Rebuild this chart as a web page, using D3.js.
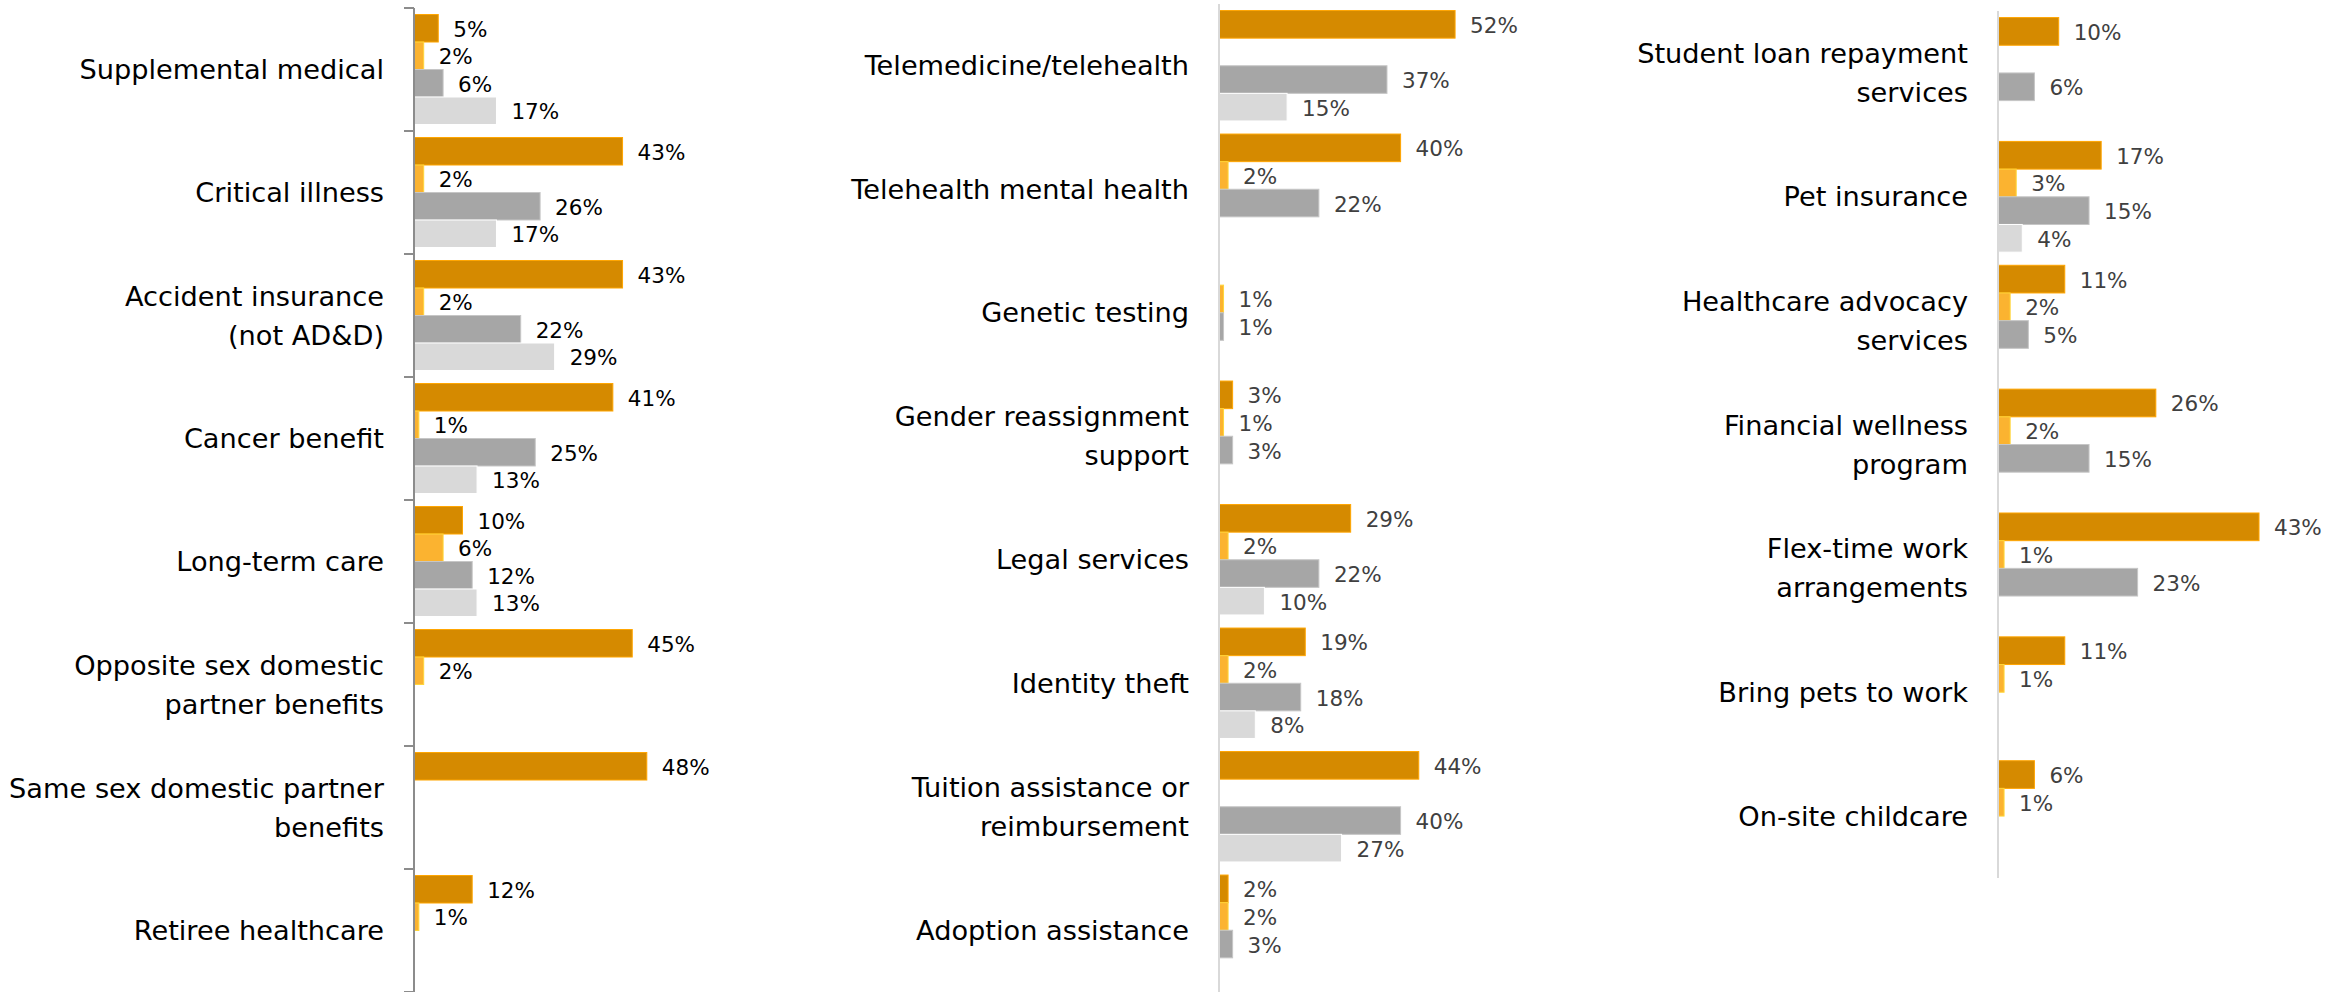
<!DOCTYPE html>
<html><head><meta charset="utf-8">
<script src="https://cdn.jsdelivr.net/npm/d3@7"></script>
<style>html,body{margin:0;padding:0;background:#fff;}</style>
</head><body>
<script>
// ---------- DATA ----------
const seriesNames = ["Series 1", "Series 2", "Series 3", "Series 4"];
const seriesColors = ["#D58A00", "#FBB330", "#A6A6A6", "#D9D9D9"];

const categories1 = ["Supplemental medical", "Critical illness", "Accident insurance\n(not AD&D)", "Cancer benefit", "Long-term care", "Opposite sex domestic\npartner benefits", "Same sex domestic partner\nbenefits", "Retiree healthcare"];
const p1s1 = [5, 43, 43, 41, 10, 45, 48, 12];
const p1s2 = [2, 2, 2, 1, 6, 2, null, 1];
const p1s3 = [6, 26, 22, 25, 12, null, null, null];
const p1s4 = [17, 17, 29, 13, 13, null, null, null];

const categories2 = ["Telemedicine/telehealth", "Telehealth mental health", "Genetic testing", "Gender reassignment\nsupport", "Legal services", "Identity theft", "Tuition assistance or\nreimbursement", "Adoption assistance"];
const p2s1 = [52, 40, null, 3, 29, 19, 44, 2];
const p2s2 = [null, 2, 1, 1, 2, 2, null, 2];
const p2s3 = [37, 22, 1, 3, 22, 18, 40, 3];
const p2s4 = [15, null, null, null, 10, 8, 27, null];

const categories3 = ["Student loan repayment\nservices", "Pet insurance", "Healthcare advocacy\nservices", "Financial wellness\nprogram", "Flex-time work\narrangements", "Bring pets to work", "On-site childcare"];
const p3s1 = [10, 17, 11, 26, 43, 11, 6];
const p3s2 = [null, 3, 2, 2, 1, 1, 1];
const p3s3 = [6, 15, 5, 15, 23, null, null];
const p3s4 = [null, 4, null, null, null, null, null];

// ---------- LAYOUT ----------
const W = 2352, H = 992;
const FONT = "'DejaVu Sans', 'Open Sans', sans-serif";
const svg = d3.select("body").append("svg").attr("width", W).attr("height", H)
  .style("font-family", FONT);

function drawPanel(cfg) {
  const { cats, series, axisX, top, bottom, domainMax, rangeW, axisColor, ticks, valueColor } = cfg;
  const g = svg.append("g");
  const x = d3.scaleLinear().domain([0, domainMax]).range([axisX, axisX + rangeW]);
  const y = d3.scaleBand().domain(cats).range([top, bottom]).paddingInner(0.106).paddingOuter(0.053);
  const ys = d3.scaleBand().domain(d3.range(series.length)).range([0, y.bandwidth()]);

  const rows = [];
  cats.forEach((c, i) => series.forEach((s, j) => {
    if (s[i] != null) rows.push({ c, j, v: s[i] });
  }));

  g.selectAll("rect.bar").data(rows).join("rect")
    .attr("class", "bar")
    .attr("x", x(0))
    .attr("y", d => y(d.c) + ys(d.j))
    .attr("width", d => x(d.v) - x(0))
    .attr("height", ys.bandwidth())
    .attr("fill", d => seriesColors[d.j])
    .attr("stroke", d => d3.color(seriesColors[d.j]).brighter(0.5))
    .attr("stroke-width", 1);

  g.selectAll("text.val").data(rows).join("text")
    .attr("class", "val")
    .attr("x", d => x(d.v) + 15)
    .attr("y", d => y(d.c) + ys(d.j) + ys.bandwidth() / 2 + 1)
    .attr("dominant-baseline", "central")
    .attr("font-size", 21.5)
    .attr("fill", valueColor)
    .text(d => d.v + "%");

  const lh = 39;
  cats.forEach(c => {
    const lines = c.split("\n");
    const cy = y(c) + y.bandwidth() / 2;
    const t = g.append("text")
      .attr("text-anchor", "end")
      .attr("font-size", 27.2)
      .attr("fill", "#000");
    lines.forEach((ln, k) => {
      t.append("tspan")
        .attr("x", axisX - 30)
        .attr("y", cy + (k - (lines.length - 1) / 2) * lh)
        .attr("dominant-baseline", "central")
        .text(ln);
    });
  });

  g.append("line")
    .attr("x1", axisX).attr("x2", axisX)
    .attr("y1", top).attr("y2", bottom)
    .attr("stroke", axisColor).attr("stroke-width", 2);

  if (ticks) {
    const step = y.step();
    const tv = d3.range(cats.length + 1).map(i => top + i * step);
    g.selectAll("line.tick").data(tv).join("line")
      .attr("class", "tick")
      .attr("x1", axisX - 10).attr("x2", axisX)
      .attr("y1", d => d).attr("y2", d => d)
      .attr("stroke", axisColor).attr("stroke-width", 2);
  }
}

drawPanel({ cats: categories1, series: [p1s1, p1s2, p1s3, p1s4], axisX: 414, top: 8, bottom: 992,
  domainMax: 50, rangeW: 242.5, axisColor: "#8C8C8C", ticks: true, valueColor: "#000" });
drawPanel({ cats: categories2, series: [p2s1, p2s2, p2s3, p2s4], axisX: 1219, top: 4, bottom: 992,
  domainMax: 60, rangeW: 272.4, axisColor: "#D9D9D9", ticks: false, valueColor: "#404040" });
drawPanel({ cats: categories3, series: [p3s1, p3s2, p3s3, p3s4], axisX: 1998, top: 11, bottom: 878,
  domainMax: 50, rangeW: 303.5, axisColor: "#D9D9D9", ticks: false, valueColor: "#404040" });
</script>
</body></html>
